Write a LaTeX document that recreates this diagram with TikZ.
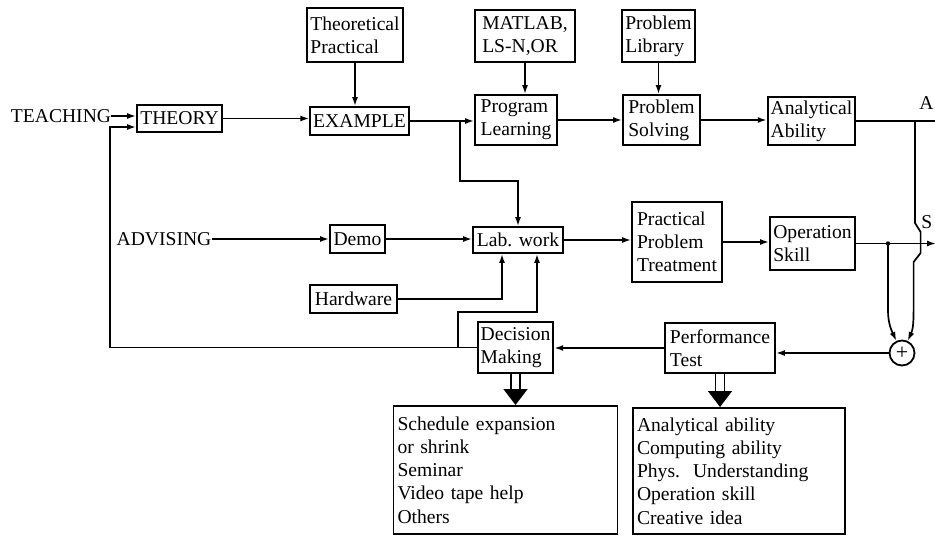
\documentclass[tikz,border=0pt]{standalone}
\usepackage{fontspec}
\setmainfont{Liberation Serif}
\usepackage{tikz}
\usetikzlibrary{arrows.meta,calc,positioning}
\tikzset{
  flowbox/.style={
    draw=black,
    line width=0.9pt,
    align=left,
    inner sep=1.5pt,
    font=\fontsize{9.8}{11.6}\selectfont
  },
  listbox/.style={
    flowbox,
    inner sep=2pt,
    anchor=north
  },
  plainlabel/.style={inner sep=0pt, font=\fontsize{9.8}{11.6}\selectfont},
  sumnode/.style={draw=black, line width=0.9pt, circle, minimum size=12.5pt, inner sep=0pt, font=\fontsize{11}{12}\selectfont},
  arrow/.style={-{Latex[length=4.5pt,width=3pt]}, line width=0.85pt},
  line/.style={line width=0.85pt},
  hollowarrow/.style={double, double distance=3.6pt, line width=0.8pt, -{Triangle[length=8pt,width=12pt]}}
}
\begin{document}
\begin{tikzpicture}[x=0.5pt, y=-0.5pt]
  \useasboundingbox (0,0) rectangle (935,535);
  % top row
  \node[plainlabel] (teaching) at (61,116) {TEACHING};
  \node[flowbox, minimum width=42.5pt, minimum height=13.5pt] (theory) at (179.5,118.5) {THEORY};
  \node[flowbox, minimum width=43pt, minimum height=27pt] (theopract) at (355,35) {Theoretical\\Practical};
  \node[flowbox, minimum width=47.5pt, minimum height=14pt] (example) at (359.5,121) {EXAMPLE};
  \node[flowbox, minimum width=50pt, minimum height=26pt] (matlab) at (525,36) {MATLAB,\\LS-N,OR};
  \node[flowbox, minimum width=41pt, minimum height=25pt] (proglearn) at (516,120) {Program\\Learning};
  \node[flowbox, minimum width=36.5pt, minimum height=26pt] (problib) at (658.5,36) {Problem\\Library};
  \node[flowbox, minimum width=38.5pt, minimum height=25pt] (probsolve) at (661.5,120) {Problem\\Solving};
  \node[flowbox, minimum width=43.5pt, minimum height=24pt] (analytic) at (811.5,121) {Analytical\\Ability};
  % middle row
  \node[plainlabel] (advising) at (164,239) {ADVISING};
  \node[flowbox, minimum width=27.5pt, minimum height=14pt] (demo) at (357.5,239) {Demo};
  \node[flowbox, minimum width=45pt, minimum height=13pt] (labwork) at (518,240) {Lab. work};
  \node[flowbox, minimum width=45pt, minimum height=40pt] (practical) at (677,242) {Practical\\Problem\\Treatment};
  \node[flowbox, minimum width=42.5pt, minimum height=26.5pt] (opskill) at (812.5,243.5) {Operation\\Skill};
  \node[flowbox, minimum width=43.5pt, minimum height=14pt] (hardware) at (353.5,299) {Hardware};
  % bottom row
  \node[flowbox, minimum width=37.5pt, minimum height=25.5pt] (decision) at (515.5,347.5) {Decision\\Making};
  \node[flowbox, minimum width=55pt, minimum height=25pt] (perftest) at (720,348) {Performance\\Test};
  \node[sumnode] (sum) at (902,353) {+};
  \node[listbox, text width=108pt, minimum height=64pt] (dmlist) at (505.5,405) {Schedule expansion\\or shrink\\Seminar\\Video tape help\\Others};
  \node[listbox, text width=102pt, minimum height=63pt] (ptlist) at (739,407) {Analytical ability\\Computing ability\\Phys.\ \ Understanding\\Operation skill\\Creative idea};
  % right edge
  \node[plainlabel, anchor=west] (alabel) at (919,103) {A};
  \node[plainlabel, anchor=west] (slabel) at (921,222) {S};
  \coordinate (fb) at (110,0);
  \coordinate (split) at (460,0);
  \coordinate (dmsplit) at (458,0);
  \coordinate (ajoin) at (915,0);
  \coordinate (sjoin) at (888,0);
  \coordinate (edge) at (936,0);
  % forward path
  \draw[arrow] (teaching.east) -- (teaching.east -| theory.west);
  \draw[arrow] (theory.east) -- (theory.east -| example.west);
  \draw[arrow] (theopract) -- (theopract |- example.north);
  \draw[arrow] (example.east) -- (example.east -| proglearn.west);
  \draw[arrow] (example.east -| split) |- ([yshift=22.5pt]labwork.north) -- (labwork.north);
  \draw[arrow] (matlab) -- (matlab |- proglearn.north);
  \draw[arrow] (problib) -- (problib |- probsolve.north);
  \draw[arrow] (proglearn.east) -- (proglearn.east -| probsolve.west);
  \draw[arrow] (probsolve.east) -- (probsolve.east -| analytic.west);
  \draw[line] (analytic.east) -- (analytic.east -| edge);
  \draw[arrow] (advising.east) -- (advising.east -| demo.west);
  \draw[arrow] (demo.east) -- (demo.east -| labwork.west);
  \draw[arrow] (labwork.east) -- (labwork.east -| practical.west);
  \draw[arrow] (practical.east) -- (practical.east -| opskill.west);
  \draw[arrow] (opskill.east) -- (opskill.east -| edge);
  \draw[arrow] (hardware.east) -| ([xshift=-8pt]labwork.south);
  % summing junction
  \fill (opskill.east -| sjoin) circle (1.1pt);
  \draw[arrow] (opskill.east -| sjoin) -- ++(0,-33.5pt) to[out=-90,in=115] (sum.115);
  \draw[arrow] (analytic.east -| ajoin) -- ++(0,-51pt) -- ++(2.8pt,-4.5pt) -- ++(0,-10.5pt) -- ++(-3.5pt,-4.5pt) -- ++(0,-23.5pt) to[out=-90,in=65] (sum.65);
  % feedback
  \draw[arrow] (sum.west) -- (sum.west -| perftest.east);
  \draw[arrow] (perftest.west) -- (perftest.west -| decision.east);
  \draw[arrow] (decision.west) -- (decision.west -| fb) |- ([yshift=-4.25pt]theory.west);
  \draw[arrow] (decision.west -| dmsplit) -- ++(0,17.75pt) -| ([xshift=9.5pt]labwork.south);
  \draw[hollowarrow] (decision.south) -- (decision.south |- dmlist.north);
  \draw[hollowarrow] (perftest.south) -- (perftest.south |- ptlist.north);
\end{tikzpicture}
\end{document}
